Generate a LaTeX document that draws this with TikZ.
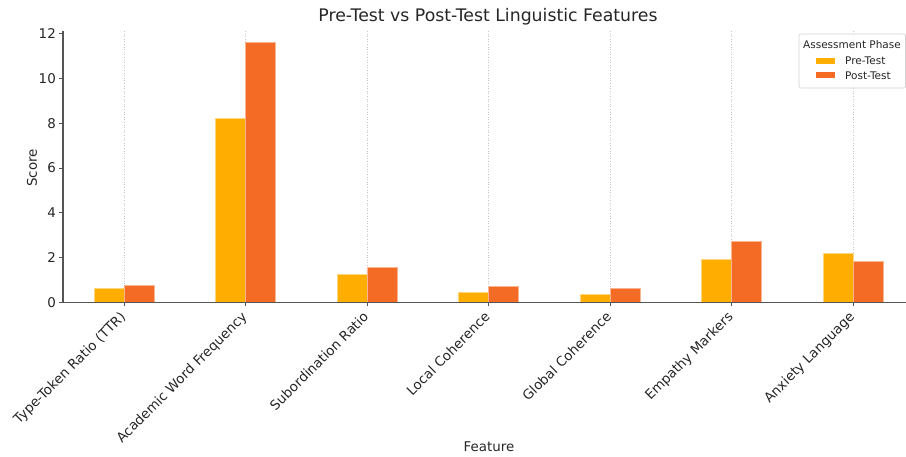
\documentclass[tikz,border=0pt]{standalone}
\usepackage{fontspec}
\setmainfont{DejaVu Sans}
\definecolor{pre}{RGB}{255,174,0}
\definecolor{post}{RGB}{243,107,36}
\definecolor{txt}{RGB}{38,38,38}
\definecolor{axc}{RGB}{85,85,85}
\tikzset{
  bar/.style={draw=white!50!#1, line width=0.4pt, fill=#1},
  grid/.style={draw=black!22, dotted, line width=0.6pt},
  tick/.style={font=\fontsize{13.4}{15}\selectfont, text=txt, inner sep=1pt},
  xlab/.style={font=\fontsize{13.4}{15}\selectfont, text=txt, rotate=45, anchor=north east, inner sep=1pt},
  axlab/.style={font=\fontsize{13.4}{15}\selectfont, text=txt},
  leg/.style={font=\fontsize{10.5}{12}\selectfont, text=txt, inner sep=0pt},
}
\begin{document}
\begin{tikzpicture}[x=1pt,y=-1pt]
\useasboundingbox (0,0) rectangle (906,457);
\clip (0,0) rectangle (906,457);
% gridlines
\foreach \i in {0,...,6}{
  \draw[grid] ({124+121.5*\i},31) -- ({124+121.5*\i},302.5);
}
% bars
\foreach \i/\a/\b in {0/0.66/0.77, 1/8.2/11.6, 2/1.26/1.56, 3/0.46/0.72, 4/0.39/0.65, 5/1.92/2.72, 6/2.22/1.82}{
  \pgfmathsetmacro{\cx}{124+121.5*\i}
  \path[bar=pre] ({\cx-30},302.5) rectangle (\cx,{302.5-22.42*\a});
  \path[bar=post] (\cx,302.5) rectangle ({\cx+30},{302.5-22.42*\b});
  \draw[axc, line width=0.8pt] (\cx,302.5) -- (\cx,306.5);
}
% axes
\draw[axc, line width=1.1pt] (63,31) -- (63,302.5) -- (907,302.5);
% y ticks
\foreach \v in {0,2,...,12}{
  \draw[axc, line width=0.8pt] (59,{302.5-22.42*\v}) -- (63,{302.5-22.42*\v});
  \node[tick, anchor=east] (yt\v) at (57,{302.5-22.42*\v}) {\v};
}
% x labels
\foreach \i/\t in {0/Type-Token Ratio (TTR), 1/Academic Word Frequency, 2/Subordination Ratio, 3/Local Coherence, 4/Global Coherence, 5/Empathy Markers, 6/Anxiety Language}{
  \node[xlab] (xl\i) at ({124+121.5*\i-5},309) {\t};
}
% axis labels and title
\node[axlab, rotate=90] (ylab) at (32,168) {Score};
\node[axlab] (xlabel) at (489,447) {Feature};
\node[font=\fontsize{17.3}{20}\selectfont, text=txt] (title) at (488,17) {Pre-Test vs Post-Test Linguistic Features};
% legend
\draw[draw=black!18, fill=white, fill opacity=0.85, rounded corners=2pt, line width=0.6pt] (799,34) rectangle (905.5,88);
\node[leg] (legt) at (852,45) {Assessment Phase};
\fill[pre] (816,58) rectangle (835,64);
\fill[post] (816,72) rectangle (835,78);
\node[leg, anchor=west] (l1) at (845,61) {Pre-Test};
\node[leg, anchor=west] (l2) at (845,75.5) {Post-Test};
\end{tikzpicture}
\end{document}
